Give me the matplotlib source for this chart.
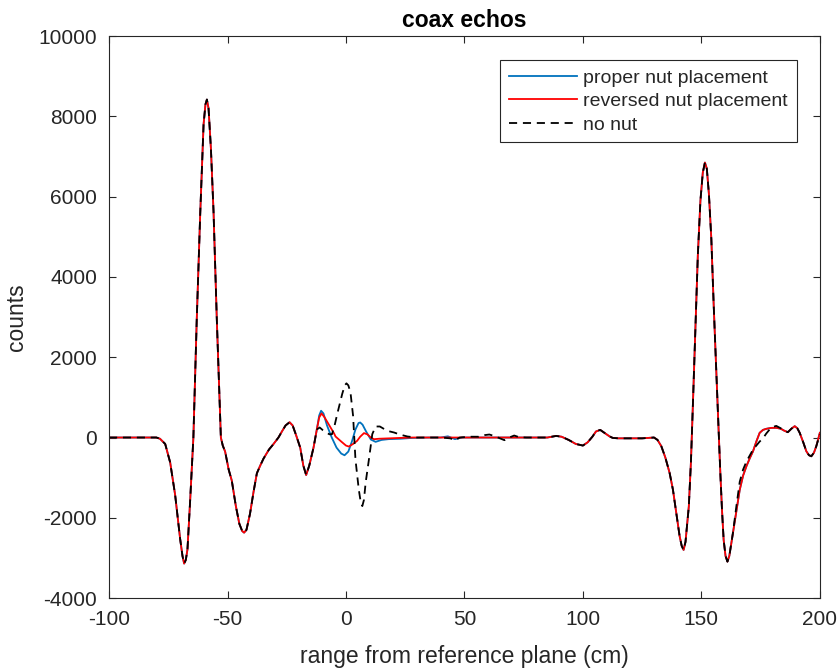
import numpy as np
import matplotlib
matplotlib.use('Agg')
from matplotlib import pyplot

# shared first echo (-100 .. -12.3 cm)
left_x = [-100, -80, -78.5, -76.3, -74.2, -72.1, -70, -69, -68.3, -67.6, -66.9, -65.8,
          -64.4, -63, -61.5, -60.1, -59.3, -58.7, -58, -57, -55.9, -54.5, -53.5, -52.8,
          -52, -51, -49.5, -48.2, -46.5, -45, -43.8, -43, -42, -40.5, -39, -37.6, -36.2,
          -34.8, -32.5, -30.6, -28.5, -27, -25.5, -23.8, -22.5, -21, -19.3, -18, -16.8,
          -15.5, -13.7, -12.3]
left_y = [0, 0, -30, -160, -620, -1430, -2520, -2950, -3140, -3050, -2790, -1610,
          0, 2900, 5600, 7800, 8300, 8420, 8200, 7200, 5640, 2920, 1200, 0,
          -200, -350, -800, -1070, -1700, -2150, -2330, -2370, -2300, -1900, -1350, -890, -700,
          -525, -300, -163, 0, 154, 300, 381, 300, 50, -254, -700, -934,
          -700, -254, 200]

# nut region, per series
blue_mid_x = [-11.3, -10.5, -9.5, -8, -6, -4, -2, -0.6, 1, 2.5, 4, 5.3, 6, 7, 8.5, 10.5,
              12.5, 15, 18, 23, 28, 35, 40, 43, 46, 49, 60, 80]
blue_mid_y = [550, 667, 600, 300, 0, -250, -400, -442, -350, -100, 200, 360, 375, 320, 150, -50,
              -108, -60, -40, -30, -10, 0, 0, 30, -40, 0, 0, 0]

red_mid_x = [-11.3, -10.3, -9, -7, -5, -4.4, -2, 0, 1.2, 3, 4.7, 6, 7.6, 9, 10.5, 11.8,
             14, 18, 23, 28, 40, 60, 80]
red_mid_y = [500, 600, 500, 300, 100, 25, -100, -200, -225, -160, -83, 20, 110, 80, 0, -42,
             -30, -20, -10, 0, 0, 0, 0]

black_mid_x = [-11.1, -9.7, -8.3, -7, -5.9, -4.8, -3.7, -1.6, -0.5, 0.2, 1, 1.9, 3, 4, 5.4,
               6.2, 6.9, 7.6, 8.3, 9.7, 11.1, 12.5, 14.3, 17.4, 20.3, 23, 26, 30, 40, 44, 46,
               48, 52, 56, 58.5, 60.5, 62.5, 65, 66.9, 68.5, 71, 73, 76, 80]
black_mid_y = [250, 180, 125, 80, 83, 300, 583, 1083, 1300, 1350, 1300, 1125, 542, -542, -1292,
               -1600, -1708, -1550, -1125, -542, 83, 275, 275, 167, 125, 70, 25, 0, 0, -20, -70,
               0, 20, 20, 60, 75, 40, -20, -67, -10, 50, 10, 0, 0]

# shared second echo (85 .. 163.3 cm)
echo_x = [85, 88.7, 91, 94, 97, 100, 102, 104, 105.5, 107.3, 109, 111.2, 112.6, 115, 125,
          130, 131.5, 133.1, 134.8, 136.6, 138, 139.4, 140.8, 141.7, 142.5, 143.3, 144.7,
          145.6, 146.4, 147.4, 148.5, 149.6, 150.6, 151.5, 152.3, 153.2, 154.2, 155.2,
          156.3, 157.2, 158, 158.7, 159.4, 160.2, 161, 161.8, 163.3]
echo_y = [0, 40, 20, -60, -160, -200, -120, 20, 150, 190, 120, 30, -10, -20, -20,
          0, -60, -217, -500, -883, -1300, -1883, -2450, -2700, -2800, -2600, -1717,
          -600, 783, 2600, 4533, 5900, 6600, 6850, 6700, 6050, 4950, 3300,
          1617, 300, -883, -1800, -2550, -2950, -3092, -2950, -2383]

# tail after second echo
tail_x = [164.8, 166.2, 167.6, 169, 170.4, 171.8, 173.2, 174.6, 176, 177.4, 179.5, 181.6,
          183.5, 185, 186.5, 188, 189.4, 190.5, 191.5, 193, 194.3, 195.4, 196.4, 197.5,
          198.5, 200]
tail_y = [-1800, -1300, -950, -717, -520, -342, -100, 117, 190, 217, 240, 242,
          220, 170, 133, 220, 283, 230, 117, -120, -342, -440, -467, -380,
          -217, 117]
black_tail_y = [-1700, -1100, -800, -600, -450, -300, -200, -100, -20, 100, 250, 290,
                230, 170, 133, 220, 283, 230, 117, -120, -342, -440, -467, -380,
                -217, 80]

blue_x = left_x + blue_mid_x + echo_x + tail_x
blue_y = left_y + blue_mid_y + echo_y + tail_y
red_x = left_x + red_mid_x + echo_x + tail_x
red_y = left_y + red_mid_y + echo_y + tail_y
black_x = left_x + black_mid_x + echo_x + tail_x
black_y = left_y + black_mid_y + echo_y + black_tail_y

pyplot.rcParams['font.family'] = ['Liberation Sans', 'DejaVu Sans']
pyplot.rcParams['axes.unicode_minus'] = False
grey = (0.15, 0.15, 0.15)

fig = pyplot.figure(figsize=(8.4, 6.69), dpi=100)
ax = fig.add_axes([0.1298, 0.106, 0.8462, 0.840])

ax.plot(blue_x, blue_y, color=(0, 0.447, 0.741), lw=1.3, label='proper nut placement')
ax.plot(red_x, red_y, color='red', lw=1.3, label='reversed nut placement')
ax.plot(black_x, black_y, color='black', lw=1.3, ls=(0, (4.5, 3.2)), label='no nut')

ax.set_xlim(-100, 200)
ax.set_ylim(-4000, 10000)
ax.set_xticks(np.arange(-100, 201, 50))
ax.set_yticks(np.arange(-4000, 10001, 2000))
ax.tick_params(direction='in', top=True, right=True, length=5, width=0.8,
               labelsize=15, colors=grey, pad=8.5)
for s in ax.spines.values():
    s.set_color(grey)
    s.set_linewidth(0.8)

ax.set_xlabel('range from reference plane (cm)', fontsize=16.5, color=grey)
ax.xaxis.set_label_coords(0.5, -0.084)
ax.set_ylabel('counts', fontsize=16.5, color=grey)
ax.yaxis.set_label_coords(-0.114, 0.5)
ax.set_title('coax echos', fontsize=16.5, fontweight='bold', color='black', pad=6.5)

leg = ax.legend(loc='upper right', bbox_to_anchor=(0.9676, 0.957), borderaxespad=0,
                fancybox=False, edgecolor=grey, fontsize=14, handlelength=3.5,
                handletextpad=0.35, labelspacing=0.3, borderpad=0.45, framealpha=1)
leg.get_frame().set_linewidth(0.8)
for t in leg.get_texts():
    t.set_color(grey)

fig.savefig('out.png', dpi=100, facecolor='white')
